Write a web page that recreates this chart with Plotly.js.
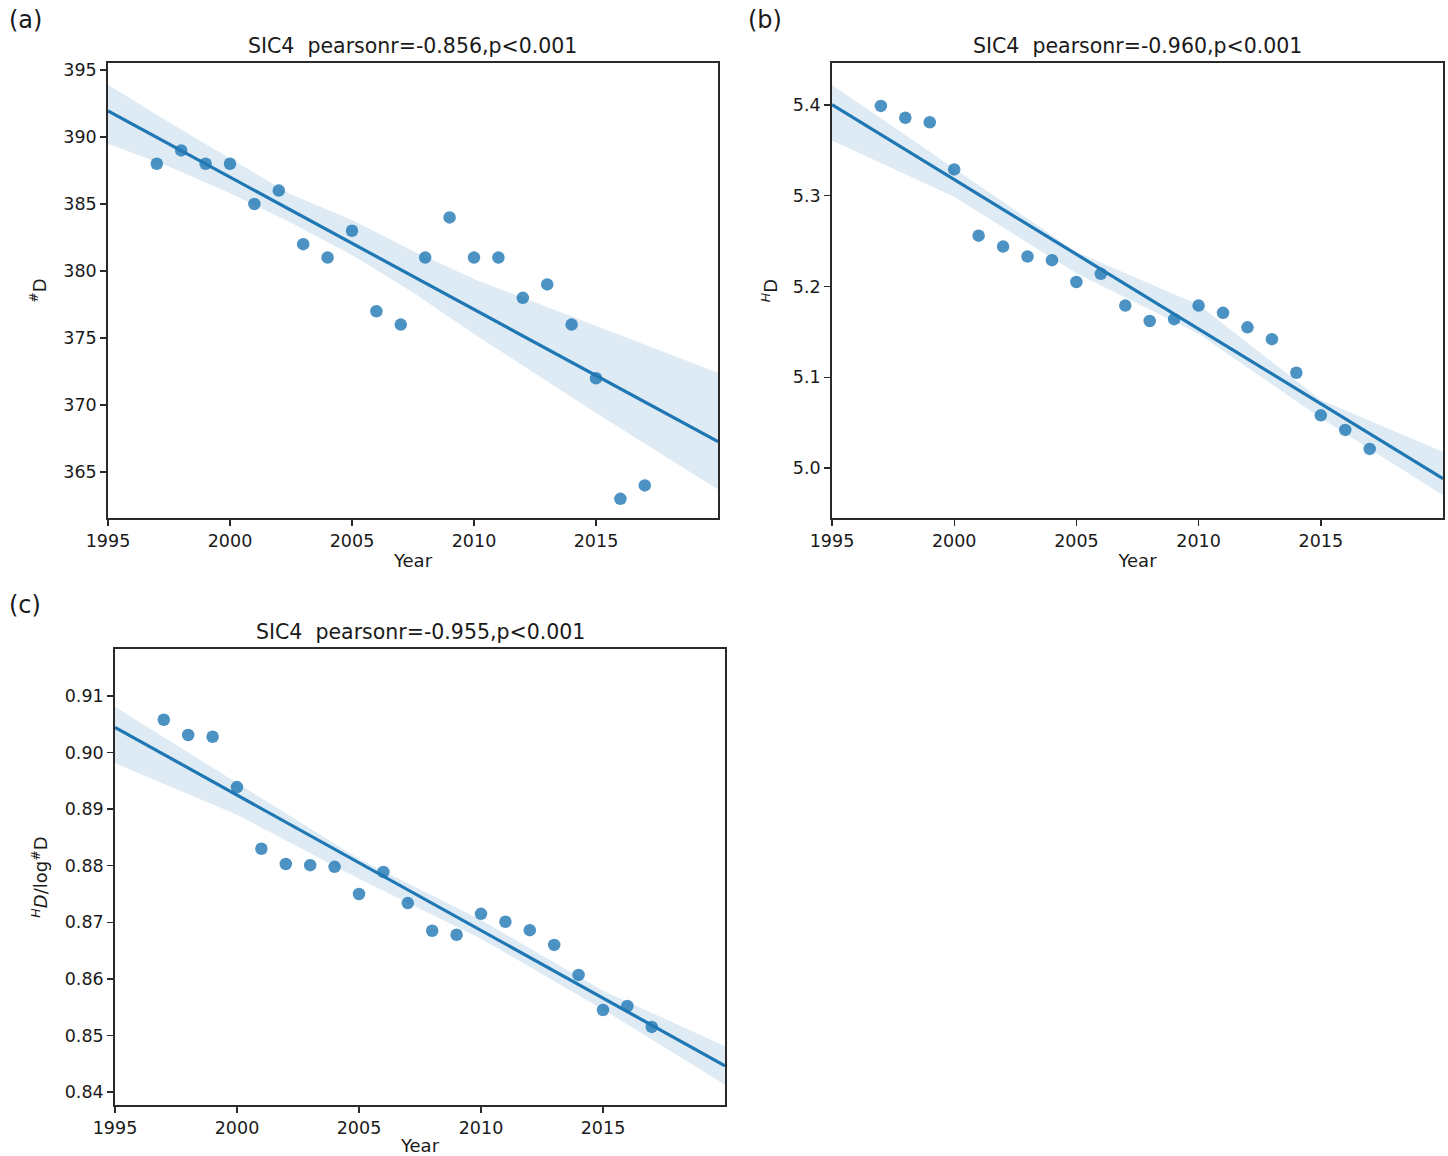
<!DOCTYPE html>
<html>
<head>
<meta charset="utf-8">
<script src="https://cdn.plot.ly/plotly-3.0.1.min.js"></script>
<style>html,body{margin:0;padding:0;background:#fff;}#chart{width:1448px;height:1156px;}</style>
</head>
<body>
<div id="chart"></div>
<script>
// ---------------- data ----------------
const years = [1997, 1998, 1999, 2000, 2001, 2002, 2003, 2004, 2005, 2006, 2007,
               2008, 2009, 2010, 2011, 2012, 2013, 2014, 2015, 2016, 2017];

// (a) #D
const countD = [388, 389, 388, 388, 385, 386, 382, 381, 383, 377, 376,
                381, 384, 381, 381, 378, 379, 376, 372, 363, 364];

// (b) HD
const shannonD = [5.399, 5.386, 5.381, 5.329, 5.256, 5.244, 5.233, 5.229, 5.205, 5.214, 5.179,
                  5.162, 5.164, 5.179, 5.171, 5.155, 5.142, 5.105, 5.058, 5.042, 5.021];

// (c) HD / log #D
const evennessD = [0.9058, 0.9031, 0.9028, 0.8939, 0.8830, 0.8803, 0.8801, 0.8798, 0.8750, 0.8789, 0.8734,
                   0.8685, 0.8678, 0.8715, 0.8701, 0.8686, 0.8660, 0.8607, 0.8545, 0.8552, 0.8515];

// 95% confidence bands of the fits
const bandYearsA = [1995, 1997.5, 2000, 2002.5, 2005, 2007.5, 2010, 2015, 2020];
const bandUpperA = [393.9, 391.1, 388.4, 385.7, 383.8, 381.5, 379.4, 375.9, 372.4];
const bandLowerA = [389.5, 387.8, 385.8, 383.6, 381.2, 378.4, 375.3, 369.4, 363.7];

const bandYearsB = [1995, 2000, 2005, 2010, 2015, 2020];
const bandUpperB = [5.422, 5.330, 5.238, 5.180, 5.075, 5.018];
const bandLowerB = [5.361, 5.299, 5.2145, 5.148, 5.055, 4.970];

const bandYearsC = [1995, 2000, 2005, 2010, 2015, 2020];
const bandUpperC = [0.9081, 0.8946, 0.8812, 0.8704, 0.8579, 0.8481];
const bandLowerC = [0.8981, 0.8890, 0.8777, 0.8671, 0.8546, 0.8413];

const xTicks = [1995, 2000, 2005, 2010, 2015];
const yTicksA = [365, 370, 375, 380, 385, 390, 395];
const yTicksB = [5.0, 5.1, 5.2, 5.3, 5.4];
const yTicksC = [0.84, 0.85, 0.86, 0.87, 0.88, 0.89, 0.90, 0.91];

const titleA = "SIC4  pearsonr=-0.856,p<0.001";
const titleB = "SIC4  pearsonr=-0.960,p<0.001";
const titleC = "SIC4  pearsonr=-0.955,p<0.001";

// ---------------- helpers ----------------
const W = 1448, H = 1156;
const px = x => x / W;
const py = y => 1 - y / H;
const X_RANGE = [1995, 2020];

function linfit(xs, ys) {
  const n = xs.length;
  const mx = xs.reduce((a, b) => a + b, 0) / n;
  const my = ys.reduce((a, b) => a + b, 0) / n;
  let sxy = 0, sxx = 0;
  for (let i = 0; i < n; i++) { sxy += (xs[i] - mx) * (ys[i] - my); sxx += (xs[i] - mx) ** 2; }
  const b = sxy / sxx;
  return x => my + b * (x - mx);
}

const C0 = "#1f77b4";
const PT = "rgba(31,119,180,0.8)";
const BAND = "rgba(31,119,180,0.15)";
const FONT = "DejaVu Sans, sans-serif";
const INK = "#1a1a1a";

function panel(xa, ya, ys, bx, bu, bl) {
  const f = linfit(years, ys);
  return [
    {type: "scatter", mode: "markers", x: years, y: ys, xaxis: xa, yaxis: ya,
     marker: {size: 12.5, color: PT, line: {width: 0}}, hoverinfo: "x+y", showlegend: false},
    {type: "scatter", mode: "lines", x: bx.concat(bx.slice().reverse()),
     y: bu.concat(bl.slice().reverse()), xaxis: xa, yaxis: ya, fill: "toself",
     fillcolor: BAND, line: {width: 0}, hoverinfo: "skip", showlegend: false},
    {type: "scatter", mode: "lines", x: X_RANGE, y: X_RANGE.map(f), xaxis: xa, yaxis: ya,
     line: {color: C0, width: 3.2}, hoverinfo: "skip", showlegend: false}
  ];
}

const data = [].concat(
  panel("x", "y", countD, bandYearsA, bandUpperA, bandLowerA),
  panel("x2", "y2", shannonD, bandYearsB, bandUpperB, bandLowerB),
  panel("x3", "y3", evennessD, bandYearsC, bandUpperC, bandLowerC)
);

function xaxis(domain, anchor) {
  return {
    domain: domain, anchor: anchor, range: X_RANGE, tickvals: xTicks,
    ticks: "outside", ticklen: 6, tickwidth: 1.4, tickcolor: "#2a2a2a",
    showline: true, mirror: true, linecolor: "#2a2a2a", linewidth: 1.8,
    showgrid: false, zeroline: false,
    tickfont: {family: FONT, size: 17.5, color: INK},
    title: {text: "Year", font: {family: FONT, size: 18, color: INK}, standoff: 5}
  };
}
function yaxis(domain, anchor, range, ticks, fmt, title, standoff) {
  return {
    domain: domain, anchor: anchor, range: range, tickvals: ticks, tickformat: fmt,
    ticks: "outside", ticklen: 6, tickwidth: 1.4, tickcolor: "#2a2a2a",
    showline: true, mirror: true, linecolor: "#2a2a2a", linewidth: 1.8,
    showgrid: false, zeroline: false,
    tickfont: {family: FONT, size: 17.5, color: INK},
    title: {text: title, font: {family: FONT, size: 18, color: INK}, standoff: standoff}
  };
}

const layout = {
  width: W, height: H,
  margin: {l: 0, r: 0, t: 0, b: 0},
  paper_bgcolor: "#fff", plot_bgcolor: "#fff",
  showlegend: false,
  font: {family: FONT, color: INK},
  xaxis: xaxis([px(108), px(718)], "y"),
  yaxis: yaxis([py(518), py(63)], "x", [361.57, 395.52], yTicksA, "d", "<sup>#</sup>D", 12),
  xaxis2: xaxis([px(832), px(1443)], "y2"),
  yaxis2: yaxis([py(518), py(63)], "x2", [4.9449, 5.4463], yTicksB, ".1f", "<sup><i>H</i></sup>D", 10),
  xaxis3: xaxis([px(115), px(725)], "y3"),
  yaxis3: yaxis([py(1105), py(649)], "x3", [0.8377, 0.91831], yTicksC, ".2f",
                "<sup><i>H</i></sup><i>D</i>/log<sup>#</sup>D", 12),
  annotations: [
    {text: titleA, xref: "paper", yref: "paper", x: px(413), y: py(46), xanchor: "center", yanchor: "middle",
     showarrow: false, font: {family: FONT, size: 20.5, color: INK}},
    {text: titleB, xref: "paper", yref: "paper", x: px(1137.5), y: py(46), xanchor: "center", yanchor: "middle",
     showarrow: false, font: {family: FONT, size: 20.5, color: INK}},
    {text: titleC, xref: "paper", yref: "paper", x: px(420), y: py(632), xanchor: "center", yanchor: "middle",
     showarrow: false, font: {family: FONT, size: 20.5, color: INK}},
    {text: "(a)", xref: "paper", yref: "paper", x: px(7), y: py(20), xanchor: "left", yanchor: "middle",
     showarrow: false, font: {family: FONT, size: 24, color: INK}},
    {text: "(b)", xref: "paper", yref: "paper", x: px(746), y: py(20), xanchor: "left", yanchor: "middle",
     showarrow: false, font: {family: FONT, size: 24, color: INK}},
    {text: "(c)", xref: "paper", yref: "paper", x: px(7), y: py(605), xanchor: "left", yanchor: "middle",
     showarrow: false, font: {family: FONT, size: 24, color: INK}}
  ]
};

Plotly.newPlot("chart", data, layout, {staticPlot: true, displayModeBar: false});
</script>
</body>
</html>
